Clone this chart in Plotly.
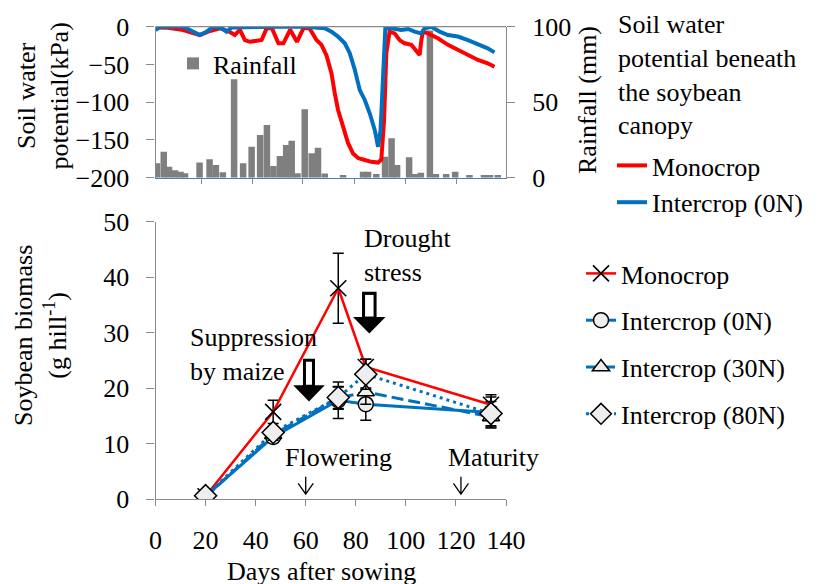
import plotly.graph_objects as go

W, H = 824, 584
OFF = 8  # page body margin of the browser
FONT = "Liberation Serif, Times New Roman, serif"
GRAY = "#898989"
RED = "#FF0000"
BLUE = "#0070C0"
FILL = "#eeeeee"

# ---------------- data: soil water potential (kPa) ----------------
swp_days_mono = [0, 5, 11.1, 17.7, 21, 25.7, 29.7, 31.7, 33.7, 35.7, 37.7, 40.4, 42.4, 44.4,
                 46.5, 49.1, 51.1, 53.8, 56.5, 59.1, 61.5, 64.3, 66.3, 68.3, 70.3, 71.6, 72.9,
                 74.9, 76.9, 78.9, 80.9, 83.6, 86.2, 88.9, 90.2, 91.3, 92.2, 93.5, 95.5, 97.5,
                 99.5, 102.2, 104.2, 105.5, 106.2, 106.8, 108.8, 112.8, 116.8, 120.8, 124.8,
                 128.8, 132.7, 135.4]
swp_mono = [-1, -1.5, -4.4, -11, -6.6, -2, -7, -11, -4, -17.7, -20, -18.5, -17.7, -2,
            -2, -22, -22, -4, -20, -2, -2, -17.7, -24, -38, -62, -88, -110,
            -132, -154, -168, -174, -176.5, -179, -180, -176, -124, -35, -6.6, -8.8, -17.7,
            -22, -24, -33, -37.5, -17.7, -6.6, -8.8, -15.4, -24, -31, -37.5,
            -44, -48.5, -53]

swp_days_inter = [0, 1.8, 11.1, 15.1, 17.7, 20.4, 23.1, 26.4, 28.4, 30.4, 40, 50, 60, 67.6,
                  70.3, 72.9, 75.6, 77.6, 79.6, 81.6, 83.6, 85.6, 87.6, 88.9, 89.9, 90.9, 91.8,
                  94.3, 98.2, 100.9, 103.5, 106.2, 107.5, 110.2, 113.5, 116.8, 120.8, 124.8,
                  128.8, 132.7, 135.4]
swp_inter = [-4.4, 0, 0, -6.6, -11, -6.6, 0, -2, -6.6, -1, 0, 0, 0, -2,
             -6.6, -13, -22, -35, -57, -84, -97, -115, -137, -159, -137, -57, -2,
             -2, -4.4, -3, -6.6, -8.8, -2, 0, -6.6, -11, -13, -17.7,
             -23, -28.7, -34]

# ---------------- data: rainfall (mm) ----------------
rain_days = [0.6, 3.3, 5.4, 7.8, 10.0, 11.8, 17.6, 21.6, 24.1, 26.9, 31.4, 35.0, 38.4, 41.8,
             44.5, 47.1, 49.7, 52.2, 54.4, 56.7, 59.6, 62.4, 64.9, 67.6, 74.9, 82.9, 84.9,
             88.2, 91.7, 94.3, 96.5, 101.3, 103.7, 106.0, 109.6, 112.0, 116.1, 119.7, 125.4,
             131.2, 133.6, 136.7]
rain_mm = [9.5, 17.2, 7.3, 5, 4, 3, 10, 12.2, 8.4, 3.6, 65.2, 9.5, 20.5, 28.3,
           34.9, 7.7, 14.4, 21.7, 24.5, 3, 45.3, 16.2, 19.9, 2.7, 1.8, 4, 4,
           2.5, 13.9, 26.1, 8.4, 13.5, 2.5, 3.3, 97.5, 2.5, 2.5, 4, 1.8,
           1.8, 1.8, 1.8]

# ---------------- data: soybean biomass (g hill-1) ----------------
bio_days = [20, 47, 73, 84, 134]
bio_mono = [0.5, 15.7, 38.0, 23.8, 17.0]
err_mono = [0.4, 2.1, 6.3, 1.4, 1.8]
bio_0n = [0.5, 11.2, 17.8, 17.1, 15.6]
err_0n = [0.4, 1.0, 3.3, 2.9, 2.8]
bio_30n = [0.4, 11.6, 18.2, 19.3, 14.8]
err_30n = [0.4, 1.0, 2.0, 2.2, 1.8]
bio_80n = [0.6, 12.0, 18.3, 22.5, 15.4]
err_80n = [0.4, 1.0, 2.0, 2.7, 2.2]

stage_days = [60, 122]
stage_names = ["Flowering", "Maturity"]

top_xticks = [18.2, 38.8, 58.8, 79.6, 99.8, 120.2]


def pxx(x):
    return (x - OFF) / W


def pxy(y):
    return 1 - (y - OFF) / H


XD = [pxx(155.5), pxx(506)]
TOP_D = [pxy(177.7), pxy(26.7)]
BOT_D = [pxy(499), pxy(221.7)]

fig = go.Figure()

# rainfall bars (base axis y, right side)
fig.add_trace(go.Bar(x=rain_days, y=rain_mm, width=2.6, marker=dict(color="#7f7f7f", line=dict(width=0)),
                     name="Rainfall", xaxis="x", yaxis="y", legend="legend3"))

# soil water potential lines (overlay axis y2, left side)
fig.add_trace(go.Scatter(x=swp_days_mono, y=swp_mono, mode="lines", name="Monocrop",
                         line=dict(color=RED, width=4), xaxis="x", yaxis="y2", legend="legend"))
fig.add_trace(go.Scatter(x=swp_days_inter, y=swp_inter, mode="lines", name="Intercrop (0N)",
                         line=dict(color=BLUE, width=4), xaxis="x", yaxis="y2", legend="legend"))


def err(arr):
    return dict(type="data", array=arr, color="black", thickness=1.5, width=5.5, visible=True)


series = [
    ("Monocrop", bio_mono, err_mono, dict(color=RED, width=2.5),
     dict(symbol="x-thin", size=16, color="black", line=dict(color="black", width=1.6))),
    ("Intercrop (0N)", bio_0n, err_0n, dict(color=BLUE, width=3),
     dict(symbol="circle", size=15, color=FILL, line=dict(color="black", width=1.5))),
    ("Intercrop (30N)", bio_30n, err_30n, dict(color=BLUE, width=3, dash="12px,5px"),
     dict(symbol="triangle-up", size=15, color=FILL, line=dict(color="black", width=1.5))),
    ("Intercrop (80N)", bio_80n, err_80n, dict(color=BLUE, width=3, dash="3px,4px"),
     dict(symbol="diamond", size=17, color=FILL, line=dict(color="black", width=1.5))),
]
for i, (nm, ys, es, ln, mk) in enumerate(series):
    fig.add_trace(go.Scatter(x=bio_days, y=ys, mode="lines+markers", name=nm, line=ln, marker=mk,
                             error_y=err(es), xaxis="x2", yaxis="y3", legend="legend2",
                             legendgroup="g%d" % i))

axfont = dict(family=FONT, size=26, color="black")

common_ax = dict(automargin=False, showgrid=False, zeroline=False, tickcolor=GRAY, tickwidth=1.2,
                 showline=True, linewidth=1.2)

fig.update_layout(
    width=W, height=H, margin=dict(l=0, r=0, t=0, b=0, autoexpand=False),
    paper_bgcolor="white", plot_bgcolor="white",
    font=dict(family=FONT, size=26, color="black"),
    showlegend=True,
    xaxis=dict(domain=XD, range=[0, 140], anchor="y", showticklabels=False, tickvals=top_xticks,
               ticks="outside", ticklen=5, linecolor="#4a7fb5", **common_ax),
    yaxis=dict(domain=TOP_D, range=[0, 100], anchor="x", side="right", tickvals=[0, 50, 100],
               ticks="outside", ticklen=8, linecolor=GRAY, tickfont=axfont, ticklabelstandoff=12,
               **common_ax),
    yaxis2=dict(range=[-200, 0], overlaying="y", anchor="x", side="left",
                tickvals=[-200, -150, -100, -50, 0], ticks="outside", ticklen=8, linecolor=GRAY,
                tickfont=axfont, ticklabelstandoff=12, **common_ax),
    xaxis2=dict(domain=XD, range=[0, 140], anchor="y3", dtick=20, tick0=0, ticks="outside",
                ticklen=6, linecolor=GRAY, tickfont=axfont, ticklabelstandoff=12, **common_ax),
    yaxis3=dict(domain=BOT_D, range=[0, 50], anchor="x2", dtick=10, tick0=0, ticks="outside",
                ticklen=8, linecolor=GRAY, tickfont=axfont, ticklabelstandoff=12, **common_ax),
    legend=dict(x=pxx(612), y=pxy(142), xanchor="left", yanchor="top", bgcolor="rgba(0,0,0,0)",
                font=axfont, tracegroupgap=0),
    legend2=dict(x=pxx(581), y=pxy(250), xanchor="left", yanchor="top", bgcolor="rgba(0,0,0,0)",
                 font=axfont, tracegroupgap=10, traceorder="grouped"),
    legend3=dict(x=pxx(173), y=pxy(40), xanchor="left", yanchor="top", bgcolor="rgba(0,0,0,0)",
                 font=axfont),
)

shapes = []
# top border of upper panel
shapes.append(dict(type="line", xref="paper", yref="paper", x0=XD[0], x1=XD[1], y0=TOP_D[1],
                   y1=TOP_D[1], line=dict(color=GRAY, width=1.2)))


def block_arrow(xc, y_top, y_neck, y_tip, stem_hw, head_hw):
    outer = ("M {a},{t} L {b},{t} L {b},{n} L {c},{n} L {x},{p} L {d},{n} L {a},{n} Z"
             .format(a=xc - stem_hw, b=xc + stem_hw, c=xc + head_hw, d=xc - head_hw,
                     x=xc, t=y_top, n=y_neck, p=y_tip))
    shapes.append(dict(type="path", xref="x2", yref="y3", path=outer, fillcolor="black",
                       line=dict(width=0), layer="above"))
    ix, iy = 1.2, 0.55
    shapes.append(dict(type="rect", xref="x2", yref="y3", x0=xc - stem_hw + ix, x1=xc + stem_hw - ix,
                       y0=y_neck + 0.1, y1=y_top - iy, fillcolor="white", line=dict(width=0),
                       layer="above"))


block_arrow(61.3, 25.3, 20.5, 17.6, 2.4, 6.3)
block_arrow(85.4, 37.35, 32.8, 29.85, 2.9, 6.5)

for d in stage_days:
    shapes.append(dict(type="path", xref="x2", yref="y3",
                       path="M {x},4.0 L {x},0.9 M {l},2.8 L {x},0.9 L {r},2.8".format(x=d, l=d - 3, r=d + 3),
                       line=dict(color="black", width=1.3)))

fig.update_layout(shapes=shapes)

ann = []


def text(t, x, y, **kw):
    d = dict(text=t, x=pxx(x), y=pxy(y), xref="paper", yref="paper", showarrow=False,
             font=axfont, xanchor="center", yanchor="middle")
    d.update(kw)
    ann.append(d)


text("Soil water<br>potential(kPa)", 43.5, 96, textangle=-90)
text("Rainfall (mm)", 588, 100, textangle=-90)
text("Soybean biomass<br>(g hill<sup>-1</sup>)", 40, 336, textangle=-90)
text("Days after sowing", 321, 571)
text("Suppression<br>by maize", 188, 354, xanchor="left", align="left")
text("Drought<br>stress", 361.5, 256, xanchor="left", align="left")
text(stage_names[0], 338, 457)
text(stage_names[1], 493, 457)
text("Soil water<br>potential beneath<br>the soybean<br>canopy", 616, 75, xanchor="left", align="left")

fig.update_layout(annotations=ann)

fig.write_html("out.html")
